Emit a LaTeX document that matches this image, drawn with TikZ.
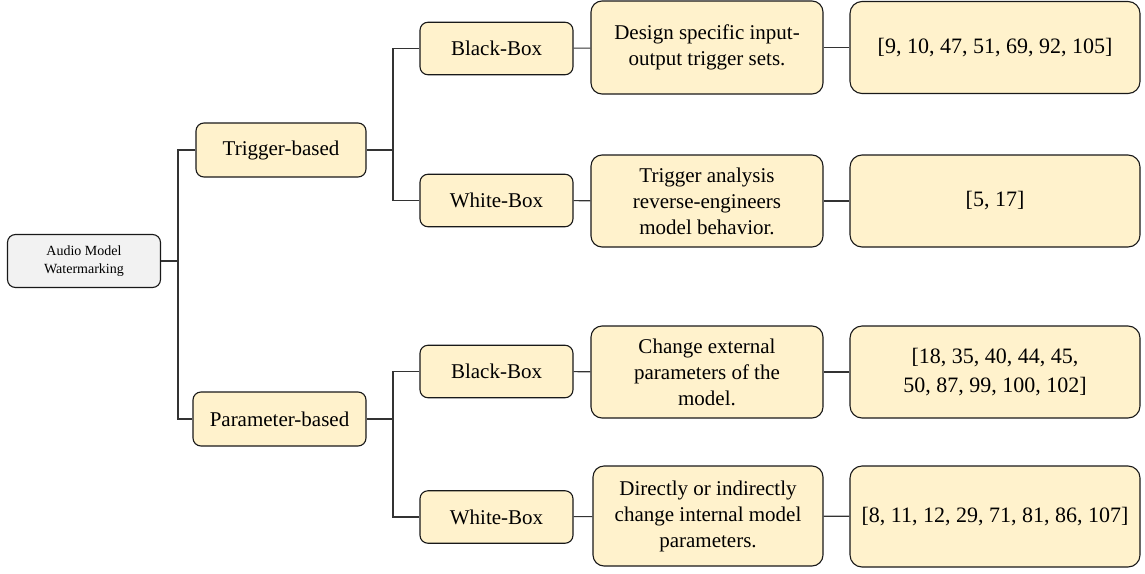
\documentclass[tikz,border=0pt]{standalone}
\usepackage{fontspec}
\setmainfont{Liberation Serif}
\definecolor{boxfill}{HTML}{FFF2CC}
\definecolor{rootfill}{HTML}{F2F2F2}
\definecolor{linec}{HTML}{333333}
\tikzset{
  base/.style={draw=black!90, line width=1.1pt, align=center, inner sep=2pt,
    font=\fontsize{21}{26}\selectfont, fill=boxfill, rounded corners=8pt},
  rootbox/.style={base, fill=rootfill, font=\fontsize{14}{18.5}\selectfont,
    minimum width=153pt, minimum height=53pt},
  catbox/.style={base, minimum height=54pt},
  subbox/.style={base, minimum width=153pt, minimum height=52.5pt},
  descbox/.style={base, minimum width=232pt, minimum height=92pt, rounded corners=11pt},
  refbox/.style={base, minimum width=290pt, minimum height=92pt, rounded corners=12pt,
    font=\fontsize{22}{29}\selectfont},
  conn/.style={draw=linec, line width=1.1pt}
}
\begin{document}
\begin{tikzpicture}[x=1pt, y=-1pt]
\useasboundingbox (0,0) rectangle (1145,573);
% root
\node[rootbox] (root) at (84,261) {Audio Model\\Watermarking};
% categories
\node[catbox, minimum width=170pt] (trig) at (281,150) {Trigger-based};
\node[catbox, minimum width=173pt] (param) at (279.5,419) {Parameter-based};
% sub
\node[subbox] (bb1) at (496.5,48.5) {Black-Box};
\node[subbox] (wb1) at (496.5,200.5) {White-Box};
\node[subbox] (bb2) at (496.5,371.5) {Black-Box};
\node[subbox] (wb2) at (496.5,517) {White-Box};
% descriptions
\node[descbox, minimum height=93pt] (d1) at (707,47.5) {Design specific input-\\output trigger sets.};
\node[descbox] (d2) at (707,201) {Trigger analysis\\reverse-engineers\\model behavior.};
\node[descbox] (d3) at (707,372) {Change external\\parameters of the\\model.};
\node[descbox, minimum width=230pt, minimum height=100pt] (d4) at (708,516) {Directly or indirectly\\change internal model\\parameters.};
% references
\node[refbox] (r1) at (995,47.5) {[9, 10, 47, 51, 69, 92, 105]};
\node[refbox] (r2) at (995,201) {[5, 17]};
\node[refbox] (r3) at (995,372) {[18, 35, 40, 44, 45,\\50, 87, 99, 100, 102]};
\node[refbox, minimum height=101pt] (r4) at (995,516.5) {[8, 11, 12, 29, 71, 81, 86, 107]};
% junctions
\coordinate (j1) at (178,261);
\coordinate (j2) at (393,150);
\coordinate (j3) at (393,419);
% connectors
\draw[conn] (root.east) -- (j1);
\draw[conn] (trig.west) -| (j1) |- (param.west);
\draw[conn] (trig.east) -- (j2);
\draw[conn] (bb1.west) -| (j2) |- (wb1.west);
\draw[conn] (param.east) -- (j3);
\draw[conn] (bb2.west) -| (j3) |- (wb2.west);
\draw[conn] (bb1) -- (d1);
\draw[conn] (wb1) -- (d2);
\draw[conn] (bb2) -- (d3);
\draw[conn] (wb2) -- (d4);
\draw[conn] (d1) -- (r1);
\draw[conn] (d2) -- (r2);
\draw[conn] (d3) -- (r3);
\draw[conn] (d4) -- (r4);
\end{tikzpicture}
\end{document}
